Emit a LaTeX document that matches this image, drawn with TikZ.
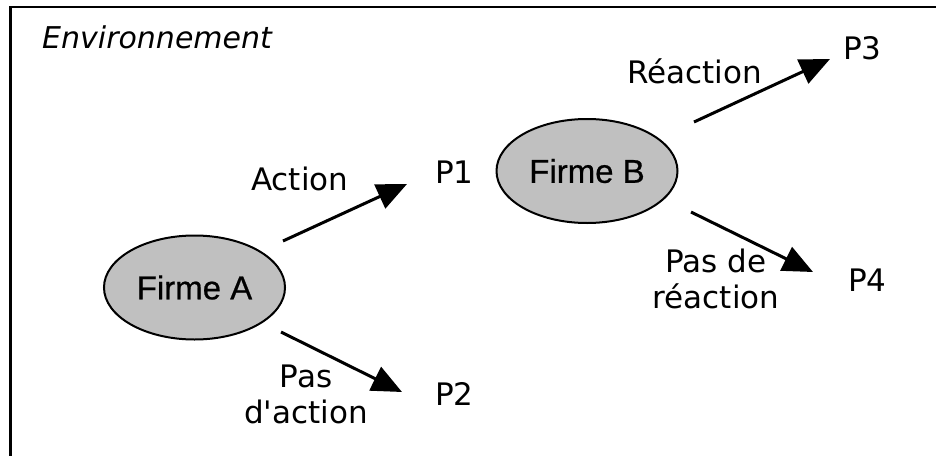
\documentclass[tikz,border=0pt]{standalone}
\usepackage{fontspec}
\setmainfont{DejaVu Sans}
\newfontfamily\firmefont[BoldFont={Liberation Sans},BoldFeatures={FakeBold=0.6}]{Liberation Sans}
\usetikzlibrary{arrows.meta,shapes.geometric}
\definecolor{firmegray}{RGB}{192,192,192}
\begin{document}
\begin{tikzpicture}[x=1pt,y=-1pt,
  lbl/.style={font=\fontsize{31}{36}\selectfont, inner sep=0pt},
  firm/.style={ellipse, draw, line width=2pt, fill=firmegray,
    minimum width=181pt, minimum height=104pt, inner sep=0pt,
    font=\firmefont\bfseries\fontsize{33}{40}\selectfont},
  move/.style={line width=3pt, -{Triangle[length=30pt,width=26pt]}}]
\useasboundingbox (0,0) rectangle (936,455);
% frame of the environment (open to the right and bottom)
\draw[line width=2.5pt] (10.3,470) -- (10.3,7) -- (950,7);
\node[lbl, font=\fontsize{30}{36}\selectfont\itshape, anchor=base west] (env) at (42,48) {Environnement};

% the two firms
\node[firm] (fa) at (194.5,287.5) {Firme A};
\node[firm] (fb) at (587,171) {Firme B};

% outcomes
\node[lbl, anchor=base west] (p1) at (435,183) {P1};
\node[lbl, anchor=base west] (p2) at (435,405) {P2};
\node[lbl, anchor=base west] (p3) at (843,59) {P3};
\node[lbl, anchor=base west] (p4) at (848,291) {P4};

% move labels
\node[lbl, anchor=base west] (lact) at (251,190) {Action};
\node[lbl, align=center] (lnoact) at (306,394) {Pas\\d\textquotesingle action};
\node[lbl, anchor=base west] (lreac) at (627,83) {Réaction};
\node[lbl, align=center] (lnoreac) at (716,278.6) {Pas de\\réaction};

% arrow ends
\coordinate (a1s) at (283,241);  \coordinate (a1e) at (407,184);
\coordinate (a2s) at (281,332);  \coordinate (a2e) at (402,392);
\coordinate (b1s) at (694,122);  \coordinate (b1e) at (830,59);
\coordinate (b2s) at (691,212);  \coordinate (b2e) at (813,272);

\draw[move] (a1s) -- (a1e);
\draw[move] (a2s) -- (a2e);
\draw[move] (b1s) -- (b1e);
\draw[move] (b2s) -- (b2e);
\end{tikzpicture}
\end{document}
